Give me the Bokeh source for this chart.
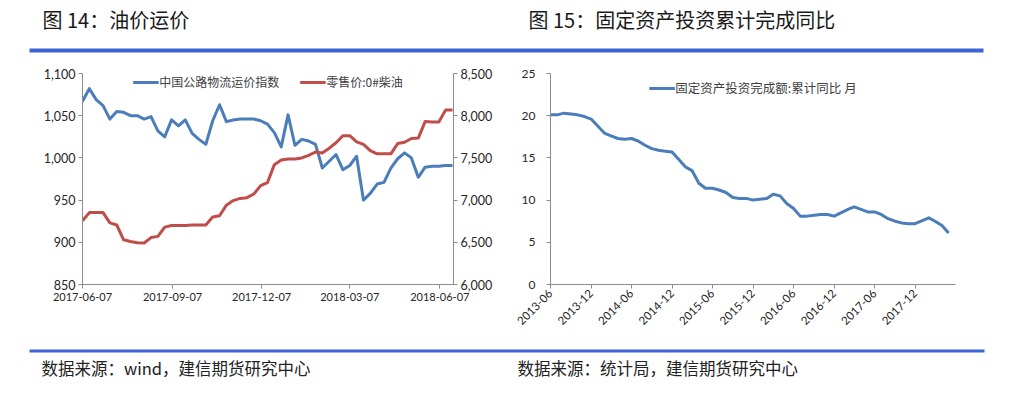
import pandas as pd
from bokeh.plotting import figure
from bokeh.models import (ColumnDataSource, Range1d, LinearAxis, FixedTicker, NumeralTickFormatter,
                          DatetimeTickFormatter, Legend, LegendItem, Label, BoxAnnotation)
from bokeh.layouts import column, row
from bokeh.embed import file_html
from bokeh.resources import INLINE
from bokeh.core.properties import value

# ---------------- data ----------------
title_left = "图 14：油价运价"
title_right = "图 15：固定资产投资累计完成同比"
source_left = "数据来源：wind，建信期货研究中心"
source_right = "数据来源：统计局，建信期货研究中心"

freight_name = "中国公路物流运价指数"
diesel_name = "零售价:0#柴油"
freight_first_week = "2017-06-07"
freight_index = [1067, 1082, 1069, 1062, 1046, 1055, 1054, 1050, 1050, 1046,
                 1049, 1032, 1025, 1045, 1038, 1045, 1029, 1022, 1016, 1044,
                 1063, 1043, 1045, 1046, 1046, 1046, 1044, 1040, 1030, 1013,
                 1051, 1015, 1022, 1020, 1016, 988, 996, 1004, 986, 991,
                 1002, 950, 958, 969, 971, 988, 999, 1006, 1000, 977,
                 989, 990, 990, 991, 991]
diesel_price = [6755, 6852, 6852, 6852, 6730, 6705, 6530, 6510, 6495, 6492,
                6556, 6570, 6680, 6699, 6699, 6699, 6704, 6706, 6706, 6800,
                6815, 6940, 6994, 7020, 7029, 7072, 7172, 7208, 7420, 7475,
                7488, 7488, 7500, 7530, 7570, 7559, 7615, 7680, 7763, 7763,
                7690, 7660, 7585, 7548, 7548, 7548, 7670, 7685, 7730, 7735,
                7930, 7925, 7925, 8069, 8069]
left_x_ticks = ["2017-06-07", "2017-09-07", "2017-12-07", "2018-03-07", "2018-06-07"]
left_x_end = "2018-06-21"
left_y_ticks = [850, 900, 950, 1000, 1050, 1100]
right_y_ticks = [6000, 6500, 7000, 7500, 8000, 8500]

fai_name = "固定资产投资完成额:累计同比 月"
fai_months = ["2013-06", "2013-07", "2013-08", "2013-09", "2013-10", "2013-11", "2013-12",
              "2014-02", "2014-03", "2014-04", "2014-05", "2014-06", "2014-07", "2014-08",
              "2014-09", "2014-10", "2014-11", "2014-12",
              "2015-02", "2015-03", "2015-04", "2015-05", "2015-06", "2015-07", "2015-08",
              "2015-09", "2015-10", "2015-11", "2015-12",
              "2016-02", "2016-03", "2016-04", "2016-05", "2016-06", "2016-07", "2016-08",
              "2016-09", "2016-10", "2016-11", "2016-12",
              "2017-02", "2017-03", "2017-04", "2017-05", "2017-06", "2017-07", "2017-08",
              "2017-09", "2017-10", "2017-11", "2017-12",
              "2018-02", "2018-03", "2018-04", "2018-05"]
fai_yoy = [20.1, 20.1, 20.3, 20.2, 20.1, 19.9, 19.6,
           17.9, 17.6, 17.3, 17.2, 17.3, 17.0, 16.5, 16.1, 15.9, 15.8, 15.7,
           13.9, 13.5, 12.0, 11.4, 11.4, 11.2, 10.9, 10.3, 10.2, 10.2, 10.0,
           10.2, 10.7, 10.5, 9.6, 9.0, 8.1, 8.1, 8.2, 8.3, 8.3, 8.1,
           8.9, 9.2, 8.9, 8.6, 8.6, 8.3, 7.8, 7.5, 7.3, 7.2, 7.2,
           7.9, 7.5, 7.0, 6.1]
fai_x_ticks = ["2013-06", "2013-12", "2014-06", "2014-12", "2015-06", "2015-12",
               "2016-06", "2016-12", "2017-06", "2017-12"]
fai_x_start = "2013-06"
fai_x_end = "2018-06"
fai_y_ticks = [0, 5, 10, 15, 20, 25]

# ---------------- style ----------------
BLUE = "#4A7DBA"
RED = "#BF4D4A"
RULE = "#3D64D6"
AXIS = "#8C8C8C"
TICK_TXT = "#262626"
CJK = "Noto Sans CJK SC"
NUM = "Lato"


def ms(s):
    return pd.Timestamp(s).timestamp() * 1000.0


def style_axis(ax, font_size="12px", standoff=3):
    ax.axis_line_color = AXIS
    ax.axis_line_width = 1
    ax.major_tick_line_color = AXIS
    ax.major_tick_in = 0
    ax.major_tick_out = 4
    ax.minor_tick_line_color = None
    ax.major_label_text_font = NUM
    ax.major_label_text_font_size = font_size
    ax.major_label_text_color = TICK_TXT
    ax.major_label_standoff = standoff


W = 1011

# ---------------- header ----------------
hdr = figure(width=W, height=56, x_range=Range1d(0, W), y_range=Range1d(0, 56),
             output_backend="svg", toolbar_location=None, min_border=0,
             x_axis_location=None, y_axis_location=None, outline_line_color=None)
hdr.grid.visible = False
hdr.add_layout(Label(x=42, y=37, text=title_left, text_font=CJK, text_font_size="20px",
                     text_baseline="middle", text_color="#1a1a1a"))
hdr.add_layout(Label(x=528, y=37, text=title_right, text_font=CJK, text_font_size="20px",
                     text_baseline="middle", text_color="#1a1a1a"))
hdr.add_layout(BoxAnnotation(left=29, right=983, bottom=4, top=8, fill_color=RULE,
                             fill_alpha=1, line_color=None))

# ---------------- left chart ----------------
dates1 = pd.date_range(freight_first_week, periods=len(freight_index), freq="7D")
src1 = ColumnDataSource(dict(date=dates1, freight=freight_index, diesel=diesel_price))

p1 = figure(width=500, height=284, x_axis_type="datetime",
            x_range=Range1d(ms(freight_first_week), ms(left_x_end)),
            y_range=Range1d(left_y_ticks[0], left_y_ticks[-1]),
            output_backend="svg", toolbar_location=None,
            min_border_left=82, min_border_right=47, min_border_top=17, min_border_bottom=34,
            outline_line_color=None)
p1.extra_y_ranges = {"right": Range1d(right_y_ticks[0], right_y_ticks[-1])}
p1.grid.visible = False

r1 = p1.line(x="date", y="freight", source=src1, line_color=BLUE, line_width=3, line_join="round")
r2 = p1.line(x="date", y="diesel", source=src1, y_range_name="right", line_color=RED,
             line_width=3, line_join="round")

p1.xaxis.ticker = FixedTicker(ticks=[ms(t) for t in left_x_ticks])
p1.xaxis.formatter = DatetimeTickFormatter(days="%Y-%m-%d", months="%Y-%m-%d", years="%Y-%m-%d")
p1.yaxis.ticker = FixedTicker(ticks=left_y_ticks)
p1.yaxis.formatter = NumeralTickFormatter(format="0,0")
for ax in p1.xaxis:
    style_axis(ax, "11px", 4)
for ax in p1.yaxis:
    style_axis(ax, "12.5px", 3)

ax_r = LinearAxis(y_range_name="right", ticker=FixedTicker(ticks=right_y_ticks),
                  formatter=NumeralTickFormatter(format="0,0"))
style_axis(ax_r, "12.5px", 3)
p1.add_layout(ax_r, "right")

leg1 = Legend(items=[LegendItem(label=value(freight_name), renderers=[r1]),
                     LegendItem(label=value(diesel_name), renderers=[r2])],
              orientation="horizontal", location="top_center",
              border_line_color=None, background_fill_alpha=0, padding=0, margin=0,
              spacing=20, glyph_width=26, glyph_height=14, label_standoff=1, label_height=14,
              label_text_font=CJK, label_text_font_size="12px", label_text_color="#404040")
p1.add_layout(leg1)

# ---------------- right chart ----------------
dates2 = pd.to_datetime(fai_months)
src2 = ColumnDataSource(dict(date=dates2, yoy=fai_yoy))

p2 = figure(width=511, height=284, x_axis_type="datetime",
            x_range=Range1d(ms(fai_x_start), ms(fai_x_end)),
            y_range=Range1d(fai_y_ticks[0], fai_y_ticks[-1]),
            output_backend="svg", toolbar_location=None,
            min_border_left=50, min_border_right=56, min_border_top=8, min_border_bottom=56,
            outline_line_color=None)
p2.grid.visible = False
r3 = p2.line(x="date", y="yoy", source=src2, line_color=BLUE, line_width=3, line_join="round")

p2.xaxis.ticker = FixedTicker(ticks=[ms(t) for t in fai_x_ticks])
p2.xaxis.formatter = DatetimeTickFormatter(days="%Y-%m", months="%Y-%m", years="%Y-%m")
p2.xaxis.major_label_orientation = 0.785398
p2.yaxis.ticker = FixedTicker(ticks=fai_y_ticks)
for ax in p2.xaxis:
    style_axis(ax, "11.5px", 3)
for ax in p2.yaxis:
    style_axis(ax, "12px", 11)

leg2 = Legend(items=[LegendItem(label=value(fai_name), renderers=[r3])],
              orientation="horizontal", location="top_center",
              border_line_color=None, background_fill_alpha=0, padding=0, margin=5,
              glyph_width=26, glyph_height=14, label_standoff=1, label_height=14,
              label_text_font=CJK, label_text_font_size="12.5px", label_text_color="#404040")
p2.add_layout(leg2)

# ---------------- footer ----------------
ftr = figure(width=W, height=56, x_range=Range1d(0, W), y_range=Range1d(0, 56),
             output_backend="svg", toolbar_location=None, min_border=0,
             x_axis_location=None, y_axis_location=None, outline_line_color=None)
ftr.grid.visible = False
ftr.add_layout(BoxAnnotation(left=29, right=984, bottom=44, top=47, fill_color=RULE,
                             fill_alpha=1, line_color=None))
ftr.add_layout(Label(x=41, y=29, text=source_left, text_font=CJK, text_font_size="16.5px",
                     text_baseline="middle", text_color="#222222"))
ftr.add_layout(Label(x=517, y=29, text=source_right, text_font=CJK, text_font_size="16.5px",
                     text_baseline="middle", text_color="#222222"))

layout = column(hdr, row(p1, p2), ftr)
open("out.html", "w").write(file_html(layout, INLINE))
